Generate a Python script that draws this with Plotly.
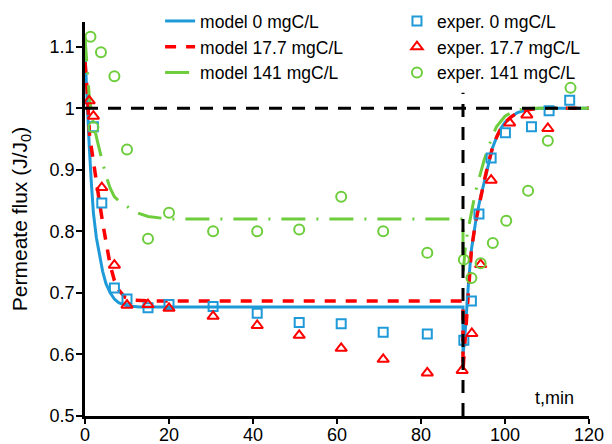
import plotly.graph_objects as go

# ---------------- data ----------------
# model curves
T_M0 = [0, 0.3, 0.7, 1.0, 1.5, 2.0, 2.7, 3.5, 4.2, 5, 6, 7, 8, 10, 13, 90,
        90, 90.4, 90.8, 91.3, 92, 93, 94, 95, 96, 97, 98, 99, 100, 101.5, 103, 105, 108, 120]
Y_M0 = [1.09, 1.04, 0.98, 0.94, 0.88, 0.83, 0.79, 0.76, 0.735, 0.715, 0.70, 0.69, 0.684, 0.679, 0.677, 0.677,
        0.60, 0.625, 0.668, 0.715, 0.77, 0.815, 0.85, 0.88, 0.91, 0.935, 0.953, 0.967, 0.977, 0.986, 0.993, 0.997, 1.0, 1.0]

T_M17 = [0, 0.5, 1.1, 2, 2.7, 3.5, 4.3, 5, 6, 7, 8, 9.5, 12, 15, 90,
         90, 90.4, 90.8, 91.3, 92, 93, 94, 95, 96, 97, 98, 99, 100, 101.5, 103, 105, 108, 120]
Y_M17 = [1.075, 1.03, 0.955, 0.91, 0.88, 0.845, 0.81, 0.78, 0.745, 0.72, 0.705, 0.693, 0.688, 0.687, 0.687,
         0.575, 0.615, 0.665, 0.715, 0.77, 0.815, 0.85, 0.88, 0.91, 0.935, 0.953, 0.967, 0.977, 0.986, 0.993, 0.997, 1.0, 1.0]

T_M141 = [0, 0.5, 1, 1.5, 2, 3, 4, 5, 6, 7, 8, 10, 12, 15, 20, 90,
          90, 90.5, 91, 92, 93, 94, 95, 96, 97, 98, 100, 102, 105, 120]
Y_M141 = [1.115, 1.06, 1.02, 0.995, 0.975, 0.945, 0.915, 0.89, 0.87, 0.856, 0.85, 0.84, 0.831, 0.824, 0.82, 0.82,
          0.73, 0.77, 0.795, 0.83, 0.865, 0.89, 0.915, 0.935, 0.955, 0.97, 0.987, 0.995, 1.0, 1.0]

# experimental points
T_E0 = [2, 4, 7, 10, 15, 20, 30.5, 41, 51, 61, 71, 81.5, 90.2, 92, 93.8, 96.7, 100.1, 106.3, 110.5, 115.4]
Y_E0 = [0.97, 0.846, 0.708, 0.69, 0.676, 0.681, 0.678, 0.667, 0.652, 0.650, 0.636, 0.633,
        0.623, 0.687, 0.828, 0.919, 0.960, 0.970, 0.996, 1.013]

T_E17 = [1, 2, 4, 7, 10, 15, 20, 30.5, 41, 51, 61, 71, 81.5, 89.8, 92.1, 94.2, 96.7, 101.1, 105.2, 110.2]
Y_E17 = [1.012, 0.987, 0.871, 0.745, 0.68, 0.681, 0.675, 0.662, 0.647, 0.631, 0.610, 0.592, 0.570,
         0.574, 0.634, 0.746, 0.883, 0.976, 0.989, 0.967]

T_E141 = [1.3, 2, 3.8, 7, 10, 15, 20, 30.5, 41, 51, 61, 71, 81.5, 90.2, 92, 94.2, 97.1, 100.3, 105.5, 110.2, 115.6]
Y_E141 = [1.116, 0.969, 1.091, 1.052, 0.933, 0.788, 0.830, 0.800, 0.800, 0.803, 0.856, 0.800, 0.765,
          0.754, 0.724, 0.748, 0.781, 0.817, 0.866, 0.947, 1.033]

REF_FLUX = 1.0      # horizontal reference line J/J0 = 1
SWITCH_T = 90       # time of the switch (vertical reference line)

X_TICKS = [0, 20, 40, 60, 80, 100, 120]
Y_TICKS = [0.5, 0.6, 0.7, 0.8, 0.9, 1.0, 1.1]
Y_TICK_TEXT = ["0.5", "0.6", "0.7", "0.8", "0.9", "1", "1.1"]

BLUE = "#1f9ad8"
RED = "#ff0000"
GREEN = "#6ecd3c"
FONT = "Liberation Sans, Arial, sans-serif"

fig = go.Figure()

# model lines
fig.add_trace(go.Scatter(x=T_M0, y=Y_M0, mode="lines", name="model 0 mgC/L",
                         line=dict(color=BLUE, width=3), legend="legend"))
fig.add_trace(go.Scatter(x=T_M17, y=Y_M17, mode="lines", name="model 17.7 mgC/L",
                         line=dict(color=RED, width=3.5, dash="11px,10px"), legend="legend"))
fig.add_trace(go.Scatter(x=T_M141, y=Y_M141, mode="lines", name="model 141 mgC/L",
                         line=dict(color=GREEN, width=3, dash="24px,11px,2px,11px"), legend="legend"))

# experimental markers
fig.add_trace(go.Scatter(x=T_E0, y=Y_E0, mode="markers", name="exper. 0 mgC/L",
                         marker=dict(symbol="square-open", size=9, color=BLUE, line=dict(width=2, color=BLUE)),
                         legend="legend2"))
fig.add_trace(go.Scatter(x=T_E17, y=Y_E17, mode="markers", name="exper. 17.7 mgC/L",
                         marker=dict(symbol="triangle-up-open", size=10, color=RED, line=dict(width=2, color=RED)),
                         legend="legend2"))
fig.add_trace(go.Scatter(x=T_E141, y=Y_E141, mode="markers", name="exper. 141 mgC/L",
                         marker=dict(symbol="circle-open", size=10, color=GREEN, line=dict(width=2, color=GREEN)),
                         legend="legend2"))

# reference dashed lines
fig.add_shape(type="line", xref="x", yref="y", x0=0, x1=X_TICKS[-1], y0=REF_FLUX, y1=REF_FLUX,
              line=dict(color="black", width=3, dash="13px,10px"), layer="above")
fig.add_shape(type="line", xref="x", yref="y", x0=SWITCH_T, x1=SWITCH_T, y0=Y_TICKS[0], y1=1.025,
              line=dict(color="black", width=3, dash="13px,10px"), layer="above")

fig.add_annotation(x=111.8, y=0.529, xref="x", yref="y", text="t,min", showarrow=False,
                   font=dict(family=FONT, size=18, color="black"))

axis_common = dict(showline=True, linecolor="black", linewidth=2.5, ticks="outside",
                   tickcolor="black", tickwidth=2, showgrid=False, zeroline=False, automargin=False,
                   tickfont=dict(family=FONT, size=18, color="black"))

fig.update_xaxes(range=[0, 120], tickvals=X_TICKS, ticklen=5, ticklabelstandoff=-4, **axis_common)
fig.update_yaxes(range=[0.5, 1.14], tickvals=Y_TICKS, ticktext=Y_TICK_TEXT, ticklen=6, ticklabelstandoff=-2,
                 title=dict(text="Permeate flux (J/J<sub>0</sub>)", font=dict(family=FONT, size=21, color="black"),
                            standoff=17),
                 **axis_common)

legend_common = dict(bgcolor="rgba(0,0,0,0)", borderwidth=0, yanchor="top",
                     font=dict(family=FONT, size=17.5, color="black"), tracegroupgap=0)

fig.update_layout(
    width=612, height=444,
    margin=dict(l=85, r=23, t=22, b=28, autoexpand=False),
    plot_bgcolor="white", paper_bgcolor="white",
    font=dict(family=FONT, size=18, color="black"),
    showlegend=True,
    legend=dict(x=0.149, y=1.048, xanchor="left", **legend_common),
    legend2=dict(x=0.619, y=1.048, xanchor="left", **legend_common),
)

fig.write_html("out.html", config={"displayModeBar": False},
               post_script="document.body.style.margin='0px';")
